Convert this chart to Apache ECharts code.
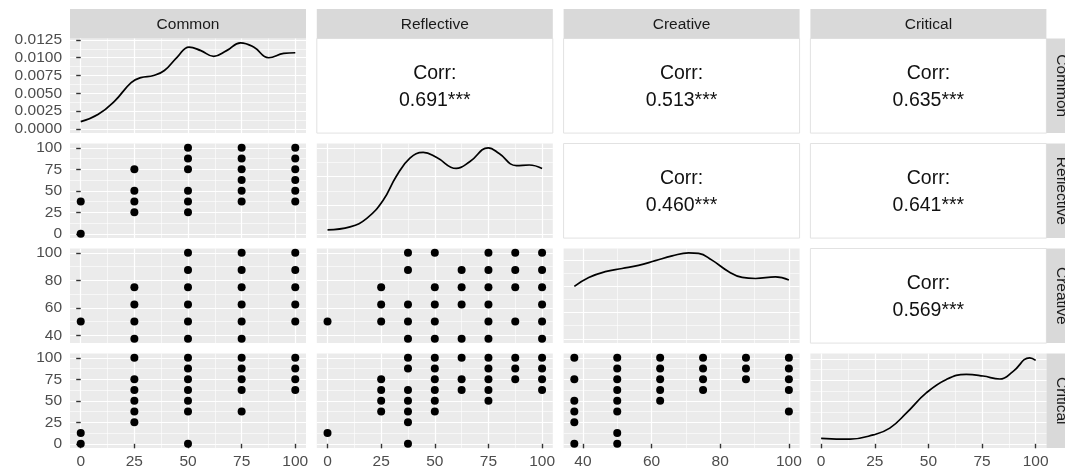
<!DOCTYPE html>
<html><head><meta charset="utf-8">
<script src="https://cdn.jsdelivr.net/npm/echarts@6/dist/echarts.min.js"></script>
<style>html,body{margin:0;padding:0;background:#fff}#c{width:1065px;height:472px}</style>
</head><body><div id="c"></div>
<script>
// ---------------- data ----------------
const variables = ['Common', 'Reflective', 'Creative', 'Critical'];
const varLimits = [[0, 100], [0, 100], [37.5, 100], [0, 100]];
const majorBreaks = [[0, 25, 50, 75, 100], [0, 25, 50, 75, 100], [40, 60, 80, 100], [0, 25, 50, 75, 100]];
const minorBreaks = [[12.5, 37.5, 62.5, 87.5], [12.5, 37.5, 62.5, 87.5], [50, 70, 90], [12.5, 37.5, 62.5, 87.5]];
const densityMajor = [[0, 0.0025, 0.005, 0.0075, 0.01, 0.0125], [0, 0.005, 0.01, 0.015, 0.02], [0, 0.005, 0.01, 0.015, 0.02], [0, 0.005, 0.01, 0.015, 0.02]];
const densityMinor = [[0.00125, 0.00375, 0.00625, 0.00875, 0.01125], [0.0025, 0.0075, 0.0125, 0.0175], [0.0025, 0.0075, 0.0125, 0.0175], [0.0025, 0.0075, 0.0125, 0.0175]];

// diagonal densities
const commonDensX = [0, 8, 15.8, 23.5, 28, 34, 39, 45, 50.5, 56, 62, 68, 74.5, 80.6, 87.6, 94.6, 100];
const commonDensY = [0.0010, 0.0020, 0.0039, 0.0065, 0.0072, 0.0075, 0.0082, 0.0101, 0.0115, 0.0110, 0.0102, 0.0110, 0.0121, 0.0115, 0.0100, 0.0106, 0.0107];
const reflectiveDensX = [0, 10.5, 18.3, 26, 32, 38.4, 44.6, 50.9, 60, 66.4, 74.9, 80, 88, 94, 100];
const reflectiveDensY = [0.0007, 0.0012, 0.0027, 0.0059, 0.0100, 0.0132, 0.0142, 0.0133, 0.0114, 0.0126, 0.0150, 0.0140, 0.0119, 0.0120, 0.0114];
const creativeDensX = [37.5, 41.7, 46.5, 51.4, 56.2, 61.1, 66, 70.8, 73.7, 77.6, 82.5, 86.4, 90.3, 96.1, 100];
const creativeDensY = [0.0100, 0.0117, 0.0128, 0.0134, 0.0140, 0.0149, 0.0158, 0.0164, 0.0163, 0.0150, 0.0128, 0.0117, 0.0115, 0.0118, 0.0112];
const criticalDensX = [0, 13.5, 24.3, 32, 39.8, 49, 58.4, 67.7, 75.5, 83.3, 89.5, 97.2, 100];
const criticalDensY = [0.0013, 0.0011, 0.0021, 0.0037, 0.0073, 0.0120, 0.0152, 0.0164, 0.0160, 0.0153, 0.0171, 0.0203, 0.0197];

// scatter panels: [x, y]
const commonVsReflective = [[0,0],[0,37.5],[25,25],[25,37.5],[25,50],[25,75],[50,25],[50,37.5],[50,50],[50,75],[50,87.5],[50,100],[75,37.5],[75,50],[75,62.5],[75,75],[75,87.5],[75,100],[100,37.5],[100,50],[100,62.5],[100,75],[100,87.5],[100,100]];
const commonVsCreative = [[0,50],[25,37.5],[25,50],[25,62.5],[25,75],[50,37.5],[50,50],[50,62.5],[50,75],[50,87.5],[50,100],[75,37.5],[75,50],[75,62.5],[75,75],[75,87.5],[75,100],[100,50],[100,62.5],[100,75],[100,87.5],[100,100]];
const commonVsCritical = [[0,0],[0,12.5],[25,25],[25,37.5],[25,50],[25,62.5],[25,75],[25,100],[50,0],[50,37.5],[50,50],[50,62.5],[50,75],[50,87.5],[50,100],[75,37.5],[75,62.5],[75,75],[75,87.5],[75,100],[100,62.5],[100,75],[100,87.5],[100,100]];
const reflectiveVsCreative = [[37.5,100],[50,100],[75,100],[87.5,100],[100,100],[37.5,87.5],[62.5,87.5],[75,87.5],[87.5,87.5],[100,87.5],[25,75],[50,75],[62.5,75],[75,75],[87.5,75],[100,75],[25,62.5],[37.5,62.5],[50,62.5],[62.5,62.5],[75,62.5],[100,62.5],[0,50],[25,50],[37.5,50],[50,50],[75,50],[87.5,50],[100,50],[37.5,37.5],[50,37.5],[62.5,37.5],[75,37.5],[100,37.5]];
const reflectiveVsCritical = [[37.5,100],[50,100],[62.5,100],[75,100],[87.5,100],[100,100],[37.5,87.5],[50,87.5],[75,87.5],[87.5,87.5],[100,87.5],[25,75],[50,75],[62.5,75],[75,75],[87.5,75],[100,75],[25,62.5],[37.5,62.5],[50,62.5],[62.5,62.5],[75,62.5],[100,62.5],[25,50],[37.5,50],[50,50],[75,50],[25,37.5],[37.5,37.5],[50,37.5],[37.5,25],[0,12.5],[37.5,0]];
const creativeVsCritical = [[37.5,100],[37.5,75],[37.5,50],[37.5,37.5],[37.5,25],[37.5,0],[50,100],[50,87.5],[50,75],[50,62.5],[50,50],[50,37.5],[50,12.5],[50,0],[62.5,100],[62.5,87.5],[62.5,75],[62.5,62.5],[62.5,50],[75,100],[75,87.5],[75,75],[75,62.5],[87.5,100],[87.5,87.5],[87.5,75],[100,100],[100,87.5],[100,75],[100,62.5],[100,37.5]];

// correlations (upper triangle)
const corrRow1 = ['0.691***', '0.513***', '0.635***'];
const corrRow2 = ['0.460***', '0.641***'];
const corrRow3 = ['0.569***'];

// ---------------- assembly ----------------
const densX = [commonDensX, reflectiveDensX, creativeDensX, criticalDensX];
const densY = [commonDensY, reflectiveDensY, creativeDensY, criticalDensY];
const scatterData = {'1,0': commonVsReflective, '2,0': commonVsCreative, '3,0': commonVsCritical,
  '2,1': reflectiveVsCreative, '3,1': reflectiveVsCritical, '3,2': creativeVsCritical};
const corrText = [[null].concat(corrRow1), [null, null].concat(corrRow2), [null, null, null].concat(corrRow3)];

const FONT = '"Liberation Sans", Arial, Helvetica, sans-serif';
const LEFT0 = 70, PW = 236, PSTEP = 246.8, TOP0 = 38.5, PH = 94.6, RSTEP = 105;
const STRIP = 29.5;
const grids = [], xAxes = [], yAxes = [], series = [], graphics = [];

function expand(l) { const d = (l[1] - l[0]) * 0.05; return [l[0] - d, l[1] + d]; }
function inR(v, r) { return v.filter(a => a >= r[0] - 1e-9 && a <= r[1] + 1e-9); }

function majorAxis(g, dim, range, ticks, showLab, fmt) {
  return {
    type: 'value', gridIndex: g, min: range[0], max: range[1],
    position: dim === 'x' ? 'bottom' : 'left',
    axisLine: { show: false },
    axisTick: { show: showLab, length: 4.5, customValues: ticks, lineStyle: { color: '#333333', width: 1.4 } },
    axisLabel: { show: showLab, customValues: ticks, color: '#4D4D4D', fontSize: 15.5, fontFamily: FONT,
      margin: dim === 'x' ? 6 : 8, formatter: fmt || (v => String(v)) },
    splitLine: { show: true, lineStyle: { color: '#FFFFFF', width: 1.2 } }
  };
}
function minorAxis(g, dim, range, ticks) {
  return {
    type: 'value', gridIndex: g, min: range[0], max: range[1],
    position: dim === 'x' ? 'top' : 'right',
    axisLine: { show: false }, axisLabel: { show: false },
    axisTick: { show: false, customValues: ticks },
    splitLine: { show: true, lineStyle: { color: '#FFFFFF', width: 0.6 } }
  };
}

for (let r = 0; r < 4; r++) {
  for (let c = 0; c < 4; c++) {
    const g = grids.length;
    const left = LEFT0 + c * PSTEP, top = TOP0 + r * RSTEP;
    if (r < c) {
      grids.push({ left, top, width: PW, height: PH, show: true, backgroundColor: '#FFFFFF', borderColor: '#E2E2E2', borderWidth: 1 });
      xAxes.push({ type: 'value', gridIndex: g, show: false, min: 0, max: 1 });
      yAxes.push({ type: 'value', gridIndex: g, show: false, min: 0, max: 1 });
      graphics.push({ type: 'text', x: left + PW / 2, y: top + PH / 2 + 1.4, z: 10,
        style: { text: 'Corr:\n' + corrText[r][c], fill: '#111', fontSize: 19.5, fontFamily: FONT,
          align: 'center', verticalAlign: 'middle', textAlign: 'center', textVerticalAlign: 'middle', lineHeight: 27 } });
      continue;
    }
    grids.push({ left, top, width: PW, height: PH, show: true, backgroundColor: '#EBEBEB', borderWidth: 0 });
    const xr = expand(varLimits[c]);
    const xi = xAxes.length;
    xAxes.push(majorAxis(g, 'x', xr, inR(majorBreaks[c], xr), r === 3));
    xAxes.push(minorAxis(g, 'x', xr, inR(minorBreaks[c], xr)));
    const yi = yAxes.length;
    if (r === c) {
      const mx = Math.max.apply(null, densY[r]);
      const yr = [-0.05 * mx, 1.05 * mx];
      yAxes.push(majorAxis(g, 'y', yr, inR(densityMajor[r], yr), c === 0, v => v.toFixed(4)));
      yAxes.push(minorAxis(g, 'y', yr, inR(densityMinor[r], yr)));
      series.push({ type: 'line', xAxisIndex: xi, yAxisIndex: yi, smooth: 0.45, showSymbol: false, symbol: 'none',
        data: densX[r].map((v, i) => [v, densY[r][i]]), lineStyle: { color: '#000', width: 1.7 }, z: 3 });
    } else {
      const yr = expand(varLimits[r]);
      yAxes.push(majorAxis(g, 'y', yr, inR(majorBreaks[r], yr), c === 0));
      yAxes.push(minorAxis(g, 'y', yr, inR(minorBreaks[r], yr)));
      series.push({ type: 'scatter', xAxisIndex: xi, yAxisIndex: yi, symbol: 'circle', symbolSize: 8,
        itemStyle: { color: '#000000', opacity: 1 }, data: scatterData[r + ',' + c], z: 3 });
    }
  }
}

// strips
for (let i = 0; i < 4; i++) {
  const left = LEFT0 + i * PSTEP;
  graphics.push({ type: 'rect', shape: { x: left, y: TOP0 - STRIP, width: PW, height: STRIP }, style: { fill: '#D9D9D9' } });
  graphics.push({ type: 'text', x: left + PW / 2, y: TOP0 - STRIP / 2 + 0.5,
    style: { text: variables[i], fill: '#1A1A1A', fontSize: 15.5, fontFamily: FONT, align: 'center', verticalAlign: 'middle', textAlign: 'center', textVerticalAlign: 'middle' } });
  const top = TOP0 + i * RSTEP, rx = LEFT0 + 3 * PSTEP + PW;
  graphics.push({ type: 'rect', shape: { x: rx, y: top, width: STRIP, height: PH }, style: { fill: '#D9D9D9' } });
  graphics.push({ type: 'text', x: rx + STRIP / 2, y: top + PH / 2, rotation: -Math.PI / 2,
    style: { text: variables[i], fill: '#1A1A1A', fontSize: 15.5, fontFamily: FONT, align: 'center', verticalAlign: 'middle', textAlign: 'center', textVerticalAlign: 'middle' } });
}

const chart = echarts.init(document.getElementById('c'), null, { renderer: 'canvas' });
chart.setOption({
  backgroundColor: '#FFFFFF',
  animation: false,
  grid: grids, xAxis: xAxes, yAxis: yAxes, series: series, graphic: graphics
});
</script></body></html>
